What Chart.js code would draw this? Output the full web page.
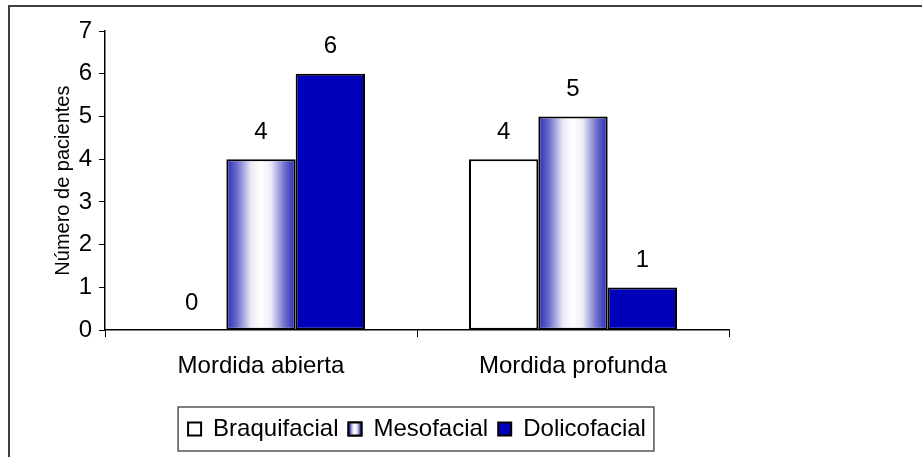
<!DOCTYPE html>
<html lang="es">
<head>
    <meta charset="UTF-8">
    <title>Mordida y biotipo facial</title>
    <script src="https://cdn.jsdelivr.net/npm/chart.js"></script>
    <style>
        body {
            margin: 0;
            padding: 0;
            background: #fff;
            font-family: 'Liberation Sans', Arial, sans-serif;
        }

        .marco {
            position: absolute;
            left: 8px;
            top: 5px;
            width: 930px;
            height: 470px;
            border-left: 2px solid #404040;
            border-top: 2px solid #404040;
        }

        canvas {
            position: absolute;
            left: 0;
            top: 0;
        }
    </style>
</head>
<body>
<div class="marco"></div>
<canvas id="barras" width="922" height="457"></canvas>

<script>
    const categorias = ['Mordida abierta', 'Mordida profunda'];
    const braquifacial = [0, 4];
    const mesofacial = [4, 5];
    const dolicofacial = [6, 1];
    const ticksY = [0, 1, 2, 3, 4, 5, 6, 7];

    const fuente = "'Liberation Sans', Arial, sans-serif";
    const azul = '#0000bb';
    const porcentajeCategoria = 3 / 4.5;

    // degradado horizontal azul-blanco-azul entre x0 y x1
    function degradado(ctx, x0, x1) {
        const g = ctx.createLinearGradient(x0, 0, x1, 0);
        g.addColorStop(0, '#2a2ab4');
        g.addColorStop(0.15, '#6a6acc');
        g.addColorStop(0.36, '#ececf8');
        g.addColorStop(0.5, '#ffffff');
        g.addColorStop(0.64, '#ececf8');
        g.addColorStop(0.85, '#6a6acc');
        g.addColorStop(1, '#2a2ab4');
        return g;
    }

    function rellenoMeso(context) {
        const chart = context.chart;
        const x = chart.scales.x;
        if (!x || context.dataIndex === undefined) return '#9a9ad8';
        const centro = x.getPixelForValue(context.dataIndex);
        const ancho = x.width / categorias.length * porcentajeCategoria / 3;
        return degradado(chart.ctx, centro - ancho / 2, centro + ancho / 2);
    }

    // valores encima de cada barra
    const etiquetas = {
        id: 'etiquetas',
        afterDatasetsDraw(chart) {
            const ctx = chart.ctx;
            ctx.save();
            ctx.font = '24px ' + fuente;
            ctx.fillStyle = '#000';
            ctx.textAlign = 'center';
            ctx.textBaseline = 'middle';
            chart.data.datasets.forEach((ds, i) => {
                chart.getDatasetMeta(i).data.forEach((barra, j) => {
                    ctx.fillText(ds.data[j], barra.x, barra.y - 27);
                });
            });
            ctx.restore();
        }
    };

    // recuadro de la leyenda y muestra con degradado
    const marcoLeyenda = {
        id: 'marcoLeyenda',
        afterDraw(chart) {
            const ley = chart.legend;
            const cajas = ley.legendHitBoxes;
            if (!cajas || !cajas.length) return;
            const ctx = chart.ctx;
            const izq = cajas[0].left - 10;
            const ult = cajas[cajas.length - 1];
            const der = ult.left + ult.width + 8;
            const arriba = cajas[0].top - 10;
            const abajo = cajas[0].top + cajas[0].height + 10;
            ctx.save();
            ctx.strokeStyle = '#555';
            ctx.lineWidth = 1.5;
            ctx.strokeRect(izq, arriba, der - izq, abajo - arriba);
            const m = cajas[1];
            const bx = m.left;
            const by = m.top + (m.height - 13) / 2;
            ctx.fillStyle = degradado(ctx, bx, bx + 13);
            ctx.fillRect(bx, by, 13, 13);
            ctx.strokeStyle = '#000';
            ctx.lineWidth = 2;
            ctx.strokeRect(bx, by, 13, 13);
            ctx.restore();
        }
    };

    new Chart(document.getElementById('barras'), {
        type: 'bar',
        data: {
            labels: categorias,
            datasets: [
                {
                    label: 'Braquifacial',
                    data: braquifacial,
                    backgroundColor: '#ffffff',
                    borderColor: '#000',
                    borderWidth: 2,
                    borderSkipped: false
                },
                {
                    label: 'Mesofacial',
                    data: mesofacial,
                    backgroundColor: rellenoMeso,
                    borderColor: '#000',
                    borderWidth: 2,
                    borderSkipped: false
                },
                {
                    label: 'Dolicofacial',
                    data: dolicofacial,
                    backgroundColor: azul,
                    borderColor: '#000',
                    borderWidth: 2,
                    borderSkipped: false
                }
            ]
        },
        options: {
            responsive: false,
            animation: false,
            events: [],
            categoryPercentage: porcentajeCategoria,
            barPercentage: 1,
            layout: {
                padding: { left: 0, right: 193, top: 31, bottom: 6 }
            },
            plugins: {
                legend: {
                    position: 'bottom',
                    fullSize: false,
                    labels: {
                        color: '#000',
                        font: { family: fuente, size: 24 },
                        boxWidth: 13,
                        boxHeight: 13,
                        padding: 10,
                        generateLabels: chart => chart.data.datasets.map((ds, i) => ({
                            text: ds.label,
                            fillStyle: i === 1 ? '#9a9ad8' : ds.backgroundColor,
                            strokeStyle: '#000',
                            lineWidth: 2,
                            datasetIndex: i
                        }))
                    }
                },
                tooltip: { enabled: false }
            },
            scales: {
                x: {
                    afterFit: s => { s.height += 11; },
                    border: { color: '#000', width: 1.5 },
                    grid: {
                        offset: true,
                        drawOnChartArea: false,
                        color: '#000',
                        tickLength: 7
                    },
                    ticks: {
                        color: '#000',
                        font: { family: fuente, size: 24 },
                        padding: 15
                    }
                },
                y: {
                    min: 0,
                    max: 7,
                    afterFit: s => { s.width = 105; },
                    afterBuildTicks: s => { s.ticks = ticksY.map(v => ({ value: v })); },
                    border: { color: '#000', width: 1.5 },
                    grid: {
                        drawOnChartArea: false,
                        color: '#000',
                        tickLength: 6
                    },
                    ticks: {
                        color: '#000',
                        font: { family: fuente, size: 24 },
                        padding: 7
                    },
                    title: {
                        display: true,
                        text: 'Número de pacientes',
                        color: '#000',
                        font: { family: fuente, size: 20 },
                        padding: { top: 51, bottom: 0 }
                    }
                }
            }
        },
        plugins: [etiquetas, marcoLeyenda]
    });
</script>
</body>
</html>
